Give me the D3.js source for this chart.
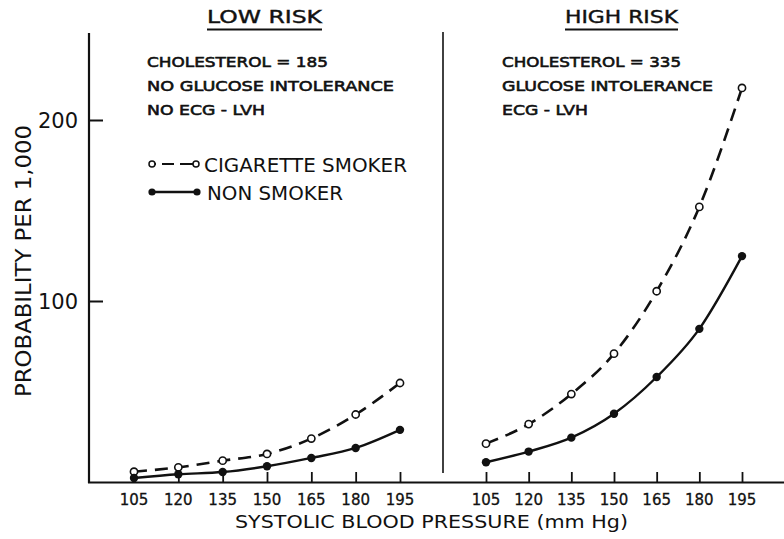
<!DOCTYPE html>
<html>
<head>
<meta charset="utf-8">
<script src="https://cdn.jsdelivr.net/npm/d3@7"></script>
<style>
  body { margin: 0; background: #fff; }
  svg text { font-family: "DejaVu Sans", "Liberation Sans", sans-serif; fill: #111; }
</style>
</head>
<body>
<svg id="chart" width="784" height="539"></svg>
<script>
// systolic blood pressure categories (mm Hg)
const pressures = [105, 120, 135, 150, 165, 180, 195];

// probability per 1,000
const lowSmoker = [5.7, 8.1, 11.8, 15.5, 24, 37.3, 54.7];
const lowNonSmoker = [2.2, 4.3, 5.5, 8.7, 13.3, 18.8, 28.8];
const highSmoker = [21.2, 32, 48.6, 70.9, 105.4, 152, 217.7];
const highNonSmoker = [10.9, 16.8, 24.5, 37.7, 58, 84.6, 124.8];

const yTicks = [100, 200];
const lowNotes = ["CHOLESTEROL = 185", "NO GLUCOSE INTOLERANCE", "NO ECG - LVH"];
const highNotes = ["CHOLESTEROL = 335", "GLUCOSE INTOLERANCE", "ECG - LVH"];

const svg = d3.select("#chart");
const ink = "#111";

const y = d3.scaleLinear().domain([0, 200]).range([482, 120]);
const xLow = d3.scaleLinear().domain([105, 195]).range([134, 400]);
const xHigh = d3.scaleLinear().domain([105, 195]).range([486, 742]);

// y axis: ticks pointing inward
const yAxis = svg.append("g").attr("transform", "translate(89,0)")
    .call(d3.axisRight(y).tickValues(yTicks).tickSize(14).tickFormat(""));
yAxis.select(".domain").remove();
yAxis.selectAll("line").attr("stroke", ink).attr("stroke-width", 2);
svg.append("line")
    .attr("x1", 89).attr("y1", 33).attr("x2", 89).attr("y2", 483)
    .attr("stroke", ink).attr("stroke-width", 2.2);
svg.selectAll(".ylab")
    .data(yTicks)
    .join("text")
    .attr("class", "ylab")
    .attr("x", 78)
    .attr("y", d => y(d) + 8)
    .attr("text-anchor", "end")
    .style("font-size", "21px")
    .text(d => d);

// x axis baseline
svg.append("line")
    .attr("x1", 88).attr("y1", 482.5).attr("x2", 784).attr("y2", 482.5)
    .attr("stroke", ink).attr("stroke-width", 2.2);

// panel divider
svg.append("line")
    .attr("x1", 443).attr("y1", 32).attr("x2", 443).attr("y2", 473)
    .attr("stroke", ink).attr("stroke-width", 1.6);

// squeeze or stretch a label to the width it has in the figure
function fit(sel, width) {
    sel.attr("textLength", width).attr("lengthAdjust", "spacingAndGlyphs");
}

function drawPanel(x, smoker, nonSmoker, title, titleX, titleW, notes, notesX, noteW) {
    const g = svg.append("g");

    const axis = g.append("g").attr("transform", "translate(0,482)")
        .call(d3.axisTop(x).tickValues(pressures).tickSize(10).tickFormat(""));
    axis.select(".domain").remove();
    axis.selectAll("line").attr("stroke", ink).attr("stroke-width", 1.8);

    g.selectAll(".xlab")
        .data(pressures)
        .join("text")
        .attr("class", "xlab")
        .attr("x", d => x(d))
        .attr("y", 505)
        .attr("text-anchor", "middle")
        .style("font-size", "15px")
        .style("stroke", ink).style("stroke-width", 0.3)
        .text(d => d);

    const line = d3.line()
        .x((d, i) => x(pressures[i]))
        .y(d => y(d))
        .curve(d3.curveMonotoneX);

    g.append("path")
        .attr("d", line(smoker))
        .attr("fill", "none")
        .attr("stroke", ink)
        .attr("stroke-width", 2.6)
        .attr("stroke-dasharray", "13 8");

    g.append("path")
        .attr("d", line(nonSmoker))
        .attr("fill", "none")
        .attr("stroke", ink)
        .attr("stroke-width", 2.4);

    g.selectAll(".open")
        .data(smoker)
        .join("circle")
        .attr("class", "open")
        .attr("cx", (d, i) => x(pressures[i]))
        .attr("cy", d => y(d))
        .attr("r", 3.6)
        .attr("fill", "#fff")
        .attr("stroke", ink)
        .attr("stroke-width", 1.6);

    g.selectAll(".solid")
        .data(nonSmoker)
        .join("circle")
        .attr("class", "solid")
        .attr("cx", (d, i) => x(pressures[i]))
        .attr("cy", d => y(d))
        .attr("r", 4.2)
        .attr("fill", ink);

    // underlined title
    g.append("text")
        .attr("x", titleX - titleW / 2)
        .attr("y", 23)
        .style("font-size", "17px")
        .style("stroke", ink).style("stroke-width", 0.4)
        .text(title)
        .call(fit, titleW);
    g.append("line")
        .attr("x1", titleX - titleW / 2).attr("x2", titleX + titleW / 2)
        .attr("y1", 29.5).attr("y2", 29.5)
        .attr("stroke", ink).attr("stroke-width", 2);

    g.selectAll(".note")
        .data(notes)
        .join("text")
        .attr("class", "note")
        .attr("x", notesX)
        .attr("y", (d, i) => 67 + i * 24)
        .style("font-size", "14.5px")
        .style("stroke", ink).style("stroke-width", 0.6)
        .text(d => d)
        .each(function(d, i) { d3.select(this).call(fit, noteW[i]); });
}

drawPanel(xLow, lowSmoker, lowNonSmoker, "LOW RISK", 264.5, 115, lowNotes, 147, [181, 247, 118]);
drawPanel(xHigh, highSmoker, highNonSmoker, "HIGH RISK", 621.5, 113, highNotes, 502, [179, 211, 86]);

// legend
const legend = svg.append("g");
legend.append("line")
    .attr("x1", 152).attr("x2", 196).attr("y1", 164).attr("y2", 164)
    .attr("stroke", ink).attr("stroke-width", 2.2)
    .attr("stroke-dasharray", "4 6 12 6 20");
legend.selectAll(".lo")
    .data([152, 196])
    .join("circle")
    .attr("cx", d => d).attr("cy", 164).attr("r", 3)
    .attr("fill", "#fff").attr("stroke", ink).attr("stroke-width", 1.5);
legend.append("text")
    .attr("x", 204).attr("y", 172)
    .style("font-size", "20px")
    .text("CIGARETTE SMOKER")
    .call(fit, 203);
legend.append("line")
    .attr("x1", 152).attr("x2", 197).attr("y1", 192).attr("y2", 192)
    .attr("stroke", ink).attr("stroke-width", 2.4);
legend.selectAll(".ls")
    .data([152, 197])
    .join("circle")
    .attr("cx", d => d).attr("cy", 192).attr("r", 3.6)
    .attr("fill", ink);
legend.append("text")
    .attr("x", 207).attr("y", 200)
    .style("font-size", "20px")
    .text("NON SMOKER")
    .call(fit, 136);

// axis titles
svg.append("text")
    .attr("transform", "translate(31,397) rotate(-90)")
    .style("font-size", "21px")
    .text("PROBABILITY PER 1,000")
    .call(fit, 272);

svg.append("text")
    .attr("x", 235).attr("y", 528)
    .style("font-size", "18px")
    .text("SYSTOLIC BLOOD PRESSURE (mm Hg)")
    .call(fit, 393);
</script>
</body>
</html>
